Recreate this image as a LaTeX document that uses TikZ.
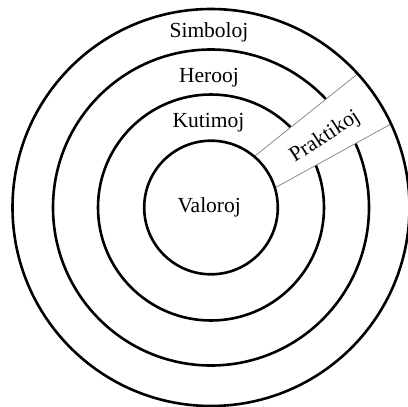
\documentclass[tikz,border=0pt]{standalone}
\usepackage{fontspec}
\setmainfont{Liberation Serif}
\begin{document}
\begin{tikzpicture}[x=1pt,y=-1pt,
  ring/.style={line width=2.6pt,black},
  bandline/.style={line width=0.7pt,gray},
  lbl/.style={font=\fontsize{21.5}{24}\selectfont,anchor=base,inner sep=0pt}]
\useasboundingbox (0,0) rectangle (408,407);
\coordinate (c) at (211,207.5);
\coordinate (u1) at (243.3,165.3);
\coordinate (u2) at (373.3,61.3);
\coordinate (l1) at (261,195.5);
\coordinate (l2) at (410.6,113.2);
\begin{scope}
  \clip (c) circle (198.5);
  \draw[ring] (c) circle (113);
  \draw[ring] (c) circle (158);
  \fill[white] (u1) -- (u2) -- (l2) -- (l1) -- cycle;
  \draw[bandline] (u1) -- (u2);
  \draw[bandline] (l1) -- (l2);
\end{scope}
\draw[ring,fill=white] (c) circle (66.8);
\draw[ring] (c) circle (198.5);
\node[lbl] (simb) at (209,37.7) {Simboloj};
\node[lbl] (hero) at (209,82) {Herooj};
\node[lbl] (kuti) at (208.5,127.7) {Kutimoj};
\node[lbl] (valo) at (209.2,212.7) {Valoroj};
\node[font=\fontsize{21.5}{24}\selectfont,inner sep=0pt,rotate=33] (prak) at (325,137) {Praktikoj};
\end{tikzpicture}
\end{document}
